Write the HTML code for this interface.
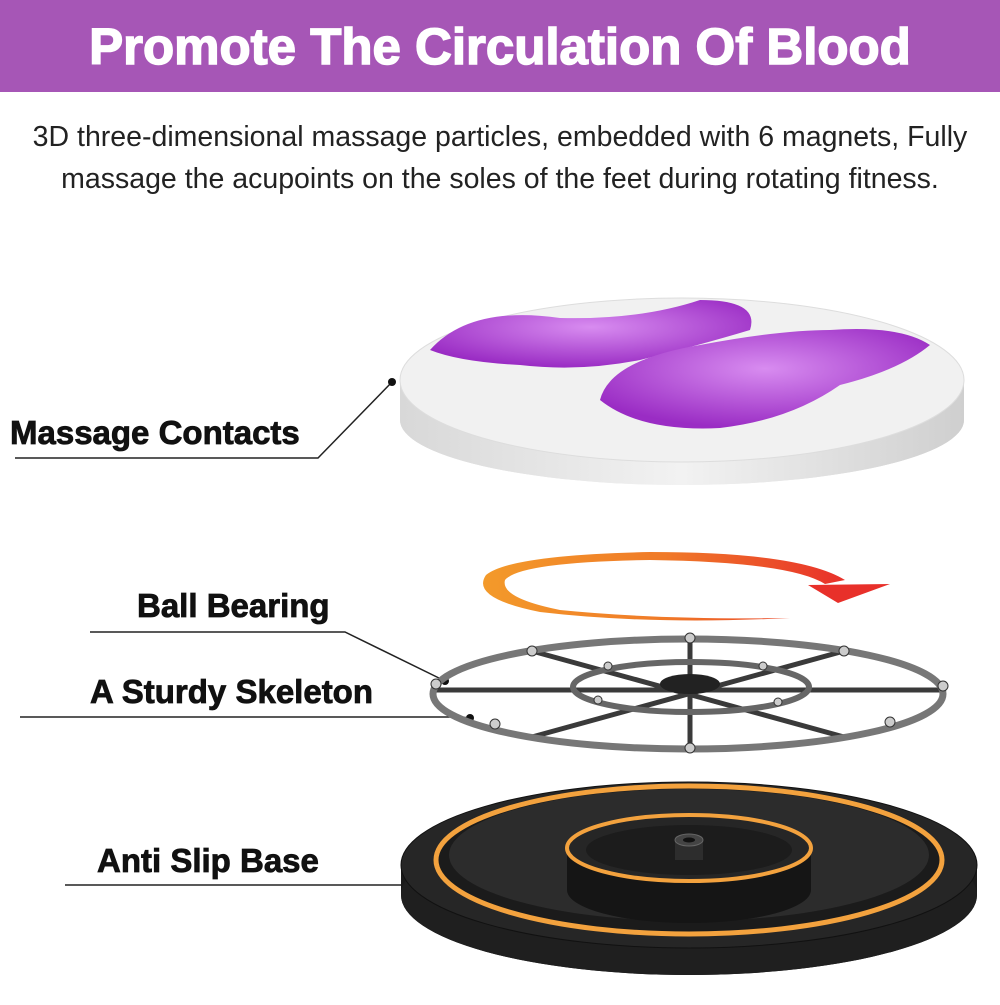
<!DOCTYPE html>
<html><head><meta charset="utf-8"><style>
body{margin:0;width:1000px;height:1000px;background:#fff;overflow:hidden;font-family:"Liberation Sans",sans-serif}
</style></head><body>
<svg width="1000" height="1000" viewBox="0 0 1000 1000" xmlns="http://www.w3.org/2000/svg">
<defs>
<linearGradient id="arc" x1="0" x2="1"><stop offset="0" stop-color="#f39a2a"/><stop offset="0.5" stop-color="#f07a28"/><stop offset="1" stop-color="#e8302a"/></linearGradient>
<linearGradient id="side" x1="0" x2="1"><stop offset="0" stop-color="#d8d8d8"/><stop offset="0.5" stop-color="#f2f2f2"/><stop offset="1" stop-color="#cfcfcf"/></linearGradient>
<radialGradient id="pur" cx="0.5" cy="0.4" r="0.6"><stop offset="0" stop-color="#d88cf0"/><stop offset="1" stop-color="#9a2cc4"/></radialGradient>
</defs>
<rect x="0" y="0" width="1000" height="92" fill="#a656b6"/>
<text x="500" y="64" text-anchor="middle" fill="#fff" stroke="#fff" stroke-width="1.5" font-weight="bold" font-size="51">Promote The Circulation Of Blood</text>
<text x="500" y="146" text-anchor="middle" fill="#222" font-size="28.5">3D three-dimensional massage particles, embedded with 6 magnets, Fully</text>
<text x="500" y="188" text-anchor="middle" fill="#222" font-size="28.5">massage the acupoints on the soles of the feet during rotating fitness.</text>

<!-- top disc -->
<path d="M400 385 L400 420 A282 65 0 0 0 964 420 L964 385 Z" fill="url(#side)"/>
<ellipse cx="682" cy="420" rx="282" ry="65" fill="url(#side)"/>
<ellipse cx="682" cy="380" rx="282" ry="82" fill="#f1f1f1" stroke="#ddd"/>
<path d="M430 350 Q470 305 560 318 Q640 320 700 300 Q760 300 750 330 Q700 345 640 360 Q580 372 520 365 Q460 362 430 350Z" fill="url(#pur)"/>
<path d="M600 400 Q610 360 700 345 Q780 330 830 330 Q900 325 930 345 Q900 370 840 385 Q790 420 720 428 Q640 432 600 400Z" fill="url(#pur)"/>

<!-- labels -->
<g font-weight="bold" font-size="33" fill="#111" stroke="#111" stroke-width="0.8">
<text x="10" y="444">Massage Contacts</text>
<text x="137" y="617">Ball Bearing</text>
<text x="90" y="703">A Sturdy Skeleton</text>
<text x="97" y="872">Anti Slip Base</text>
</g>
<g stroke="#222" stroke-width="1.5" fill="none">
<polyline points="15,458 318,458 392,382"/>
<polyline points="90,632 345,632 443,680"/>
<polyline points="20,717 460,717 470,718"/>
<polyline points="65,885 415,885 428,882"/>
</g>
<g fill="#111"><circle cx="392" cy="382" r="4"/><circle cx="445" cy="681" r="4"/><circle cx="470" cy="718" r="4"/><circle cx="427" cy="882" r="4"/></g>

<!-- rotation arrow -->
<path d="M790 618 Q650 625 540 612 Q470 598 486 575 Q510 555 650 552 Q800 552 845 580 L825 584 Q790 562 650 560 Q520 562 505 580 Q500 598 560 610 Q660 620 790 618Z" fill="url(#arc)"/>
<polygon points="808,585 890,584 838,603" fill="#e8302a"/>

<!-- skeleton -->
<g fill="none" stroke="#3a3a3a" stroke-width="5">
<line x1="434" y1="690" x2="942" y2="690"/>
<line x1="690" y1="640" x2="690" y2="748"/>
<line x1="532" y1="651" x2="844" y2="737"/>
<line x1="532" y1="737" x2="844" y2="651"/>
</g>
<ellipse cx="688" cy="694" rx="255" ry="55" fill="none" stroke="#777" stroke-width="7"/>
<ellipse cx="691" cy="687" rx="118" ry="25" fill="none" stroke="#666" stroke-width="6"/>
<ellipse cx="690" cy="684" rx="30" ry="10" fill="#222"/>
<g fill="#ccc" stroke="#333">
<circle cx="436" cy="684" r="5"/><circle cx="943" cy="686" r="5"/><circle cx="690" cy="638" r="5"/><circle cx="690" cy="748" r="5"/>
<circle cx="532" cy="651" r="5"/><circle cx="844" cy="651" r="5"/><circle cx="495" cy="724" r="5"/><circle cx="890" cy="722" r="5"/>
<circle cx="608" cy="666" r="4"/><circle cx="763" cy="666" r="4"/><circle cx="598" cy="700" r="4"/><circle cx="778" cy="702" r="4"/>
</g>

<!-- base -->
<path d="M401 870 L401 895 A288 80 0 0 0 977 895 L977 870 Z" fill="#1a1a1a"/>
<ellipse cx="689" cy="895" rx="288" ry="80" fill="#1f1f1f"/>
<ellipse cx="689" cy="865" rx="288" ry="83" fill="#262626" stroke="#111"/>
<ellipse cx="689" cy="860" rx="253" ry="74" fill="#1b1b1b" stroke="#f3a23e" stroke-width="5"/>
<ellipse cx="689" cy="855" rx="240" ry="66" fill="#2c2c2c"/>
<path d="M567 848 L567 890 A122 33 0 0 0 811 890 L811 848 Z" fill="#151515"/>
<ellipse cx="689" cy="848" rx="122" ry="33" fill="#262626" stroke="#f3a23e" stroke-width="4"/>
<ellipse cx="689" cy="850" rx="103" ry="25" fill="#1c1c1c"/>
<rect x="675" y="840" width="28" height="20" fill="#2d2d2d"/>
<ellipse cx="689" cy="840" rx="14" ry="6" fill="#444" stroke="#666"/>
<ellipse cx="689" cy="840" rx="6" ry="2.5" fill="#111"/>
</svg>
</body></html>
